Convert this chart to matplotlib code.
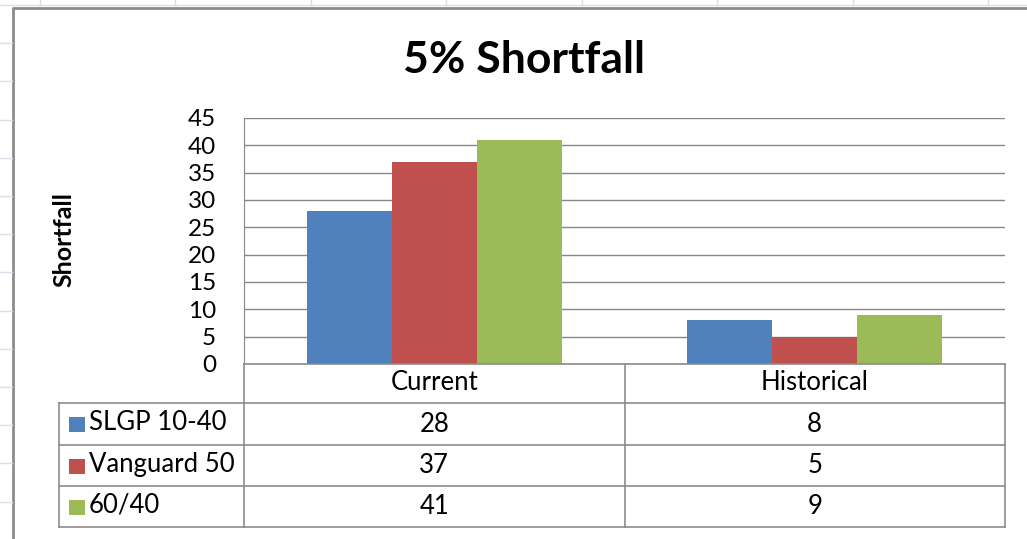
import matplotlib
matplotlib.use("Agg")
import matplotlib.pyplot as plt
import matplotlib.transforms as mtransforms
from matplotlib.lines import Line2D
from matplotlib.patches import Rectangle
import numpy as np

categories = ["Current", "Historical"]
series_names = ["SLGP 10-40", "Vanguard 50", "60/40"]
slgp = [28, 8]
vanguard = [37, 5]
sixty_forty = [41, 9]
series_values = [slgp, vanguard, sixty_forty]
colors = ["#4F81BD", "#C0504D", "#9BBB59"]
y_ticks = [0, 5, 10, 15, 20, 25, 30, 35, 40, 45]

plt.rcParams['font.family'] = ['Lato', 'DejaVu Sans']

W, H = 1027, 539
fig = plt.figure(figsize=(W / 100, H / 100), dpi=100)
fig.patch.set_facecolor("white")


def fx(px):
    return px / W


def fy(py):
    return 1 - py / H


# spreadsheet cells behind the chart
sheet = "#d9dee8"
fig.add_artist(Line2D([0, 1], [fy(5), fy(5)], color=sheet, lw=1, transform=fig.transFigure))
for xv in np.arange(39.5, W, 135.5):
    fig.add_artist(Line2D([fx(xv), fx(xv)], [1, fy(5)], color=sheet, lw=1, transform=fig.transFigure))
for yv in np.arange(43.2, H, 38.2):
    fig.add_artist(Line2D([0, fx(12)], [fy(yv), fy(yv)], color=sheet, lw=1, transform=fig.transFigure))

# chart frame
fig.add_artist(Rectangle((fx(12), 0), 1, fy(7), facecolor="white", edgecolor="none",
                         transform=fig.transFigure, zorder=0.5))
fig.add_artist(Line2D([fx(12.5), fx(12.5), 1], [0, fy(7.5), fy(7.5)], color="#8c8c8c", lw=2,
                      transform=fig.transFigure, zorder=1))

ax = fig.add_axes([fx(244), fy(364), fx(1005) - fx(244), fy(118) - fy(364)])
ax.set_zorder(2)
ax.patch.set_alpha(0)

x = np.arange(len(categories))
width = 0.223
for i, (vals, c) in enumerate(zip(series_values, colors)):
    ax.bar(x + (i - 1) * width, vals, width, color=c, zorder=3)

ax.set_xlim(-0.5, 1.5)
ax.set_ylim(0, 45)
ax.set_yticks(y_ticks)
ax.set_yticklabels([str(t) for t in y_ticks], fontsize=17.5)
ax.tick_params(axis="y", length=0, pad=20)
ax.set_xticks([])
ax.yaxis.grid(True, color="#878787", lw=1)
for s in ["top", "right", "bottom"]:
    ax.spines[s].set_visible(False)
ax.spines["left"].set_color("#878787")

fig.text(fx(524), fy(60), "5% Shortfall", fontsize=32, fontweight="bold",
         ha="center", va="center")
fig.text(fx(64), fy(239), "Shortfall", fontsize=18, fontweight="bold",
         rotation=90, ha="center", va="center")

# data table below the plot
tr = mtransforms.blended_transform_factory(ax.transData, fig.transFigure)
line_c = "#8c8c8c"
row_y = [403, 445, 486, 527]
left_px = 59
fig.add_artist(Line2D([-0.5, 1.5], [fy(364), fy(364)], color=line_c, lw=1.2, transform=tr, zorder=4))
for ry in row_y:
    fig.add_artist(Line2D([fx(left_px), fx(1005)], [fy(ry), fy(ry)], color=line_c, lw=1.2,
                          transform=fig.transFigure, zorder=4))
fig.add_artist(Line2D([fx(left_px)] * 2, [fy(403), fy(527)], color=line_c, lw=1.2,
                      transform=fig.transFigure, zorder=4))
for xe in [-0.5, 0.5, 1.5]:
    fig.add_artist(Line2D([xe, xe], [fy(364), fy(527)], color=line_c, lw=1.2, transform=tr, zorder=4))

for j, cat in enumerate(categories):
    fig.text(x[j], fy(383), cat, fontsize=18.5, ha="center", va="center", transform=tr)

for i, (name, vals, c) in enumerate(zip(series_names, series_values, colors)):
    yc = (row_y[i] + row_y[i + 1]) / 2
    fig.add_artist(Rectangle((fx(69), fy(yc + 8)), fx(16), fy(0) - fy(15), facecolor=c,
                             edgecolor="none", transform=fig.transFigure, zorder=4))
    fig.text(fx(89), fy(yc - 1), name, fontsize=18.5, ha="left", va="center")
    for j in range(len(categories)):
        fig.text(x[j], fy(yc), str(vals[j]), fontsize=18.5, ha="center", va="center", transform=tr)

fig.savefig("out.png", dpi=100)
